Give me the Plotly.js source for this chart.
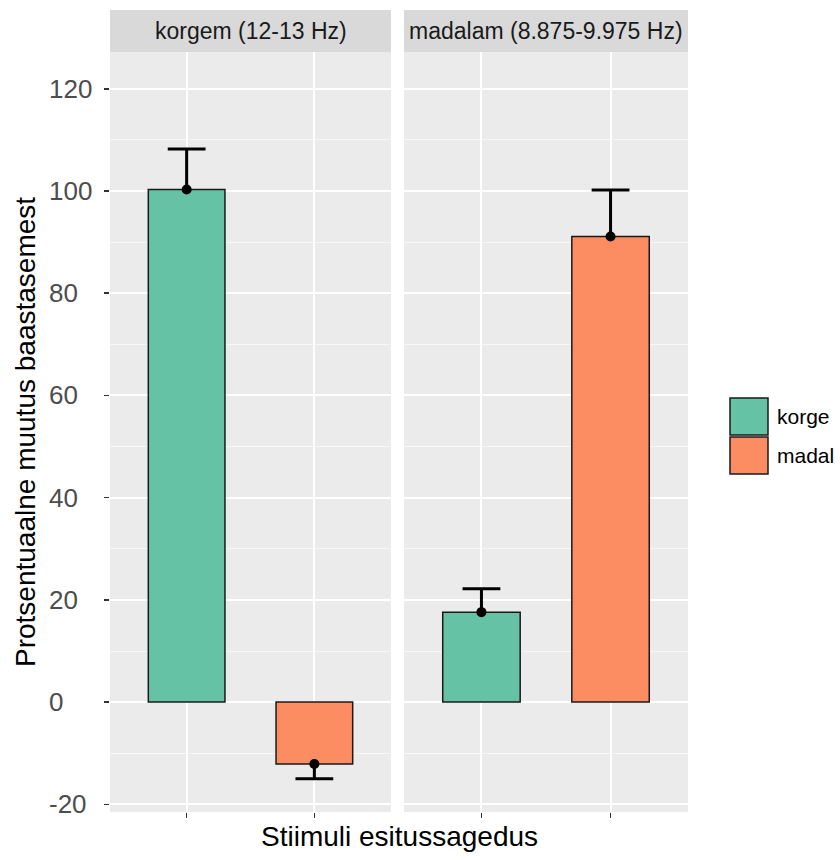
<!DOCTYPE html>
<html>
<head>
<meta charset="utf-8">
<script src="https://cdn.plot.ly/plotly-3.0.1.min.js"></script>
<style>html,body{margin:0;padding:0;background:#fff;}#chart{width:840px;height:860px;}</style>
</head>
<body>
<div id="chart"></div>
<script>
// ---- data ----
var panels = ['korgem (12-13 Hz)', 'madalam (8.875-9.975 Hz)'];
var stimuli = ['korge', 'madal'];
var meansKorgem = [100.3, -12.1];
var seKorgem = [7.9, 2.9];
var meansMadalam = [17.6, 91.1];
var seMadalam = [4.6, 9.1];
var seriesColors = ['#66c2a5', '#fc8d62'];
var yTickVals = [-20, 0, 20, 40, 60, 80, 100, 120];
var yTitle = 'Protsentuaalne muutus baastasemest';
var xTitle = 'Stiimuli esitussagedus';

// ---- geometry ----
var W = 840, H = 860;
var mL = 110, mR = 152, mT = 52, mB = 48;
var plotW = W - mL - mR, plotH = H - mT - mB;
function px(x) { return (x - mL) / plotW; }
function py(y) { return (H - mB - y) / plotH; }
var FONT = 'Liberation Sans, Arial, Helvetica, sans-serif';

var panelMeans = [meansKorgem, meansMadalam];
var panelSe = [seKorgem, seMadalam];
var axisIds = ['x', 'x2'];

var traces = [];
panelMeans.forEach(function (means, p) {
  var se = panelSe[p];
  traces.push({
    type: 'bar', x: stimuli, y: means, xaxis: axisIds[p], yaxis: 'y',
    width: 0.6, showlegend: false, hoverinfo: 'x+y',
    marker: { color: seriesColors, line: { color: '#1a1a1a', width: 1.5 } }
  });
  // error bar stem (outer half; inner half is hidden by the bar)
  traces.push({
    type: 'scatter', mode: 'markers', x: stimuli, y: means, xaxis: axisIds[p], yaxis: 'y',
    showlegend: false, hoverinfo: 'skip',
    marker: { color: '#000', size: 10 },
    error_y: {
      type: 'data', symmetric: false,
      array: means.map(function (m, i) { return m >= 0 ? se[i] : 0; }),
      arrayminus: means.map(function (m, i) { return m < 0 ? se[i] : 0; }),
      color: '#000', thickness: 3, width: 0
    }
  });
  // error bar caps
  traces.push({
    type: 'scatter', mode: 'markers', x: stimuli,
    y: means.map(function (m, i) { return m >= 0 ? m + se[i] : m - se[i]; }),
    xaxis: axisIds[p], yaxis: 'y', showlegend: false, hoverinfo: 'skip',
    marker: { symbol: 'line-ew-open', size: 27, color: '#000', line: { color: '#000', width: 3 } }
  });
});

var xAxisBase = {
  type: 'category', range: [-0.6, 1.6], anchor: 'y',
  showticklabels: false, ticks: 'outside', ticklen: 5, tickwidth: 1.5, tickcolor: '#333333',
  showgrid: true, gridcolor: '#ffffff', gridwidth: 2, zeroline: false, showline: false,
  fixedrange: true
};
var xaxis = Object.assign({}, xAxisBase, { domain: [0, px(391)] });
var xaxis2 = Object.assign({}, xAxisBase, { domain: [px(404), 1] });

var shapes = [], annotations = [];
var stripTop = 1 + 42 / plotH;
panels.forEach(function (name, p) {
  var xr = axisIds[p] + ' domain';
  shapes.push({ type: 'rect', xref: xr, yref: 'paper', x0: 0, x1: 1, y0: 1, y1: stripTop,
    fillcolor: '#d9d9d9', line: { width: 0 }, layer: 'above' });
  annotations.push({ xref: xr, yref: 'paper', x: 0.5, y: (1 + stripTop) / 2,
    xanchor: 'center', yanchor: 'middle', showarrow: false, text: name,
    font: { family: FONT, size: 23, color: '#1a1a1a' } });
});

// y tick labels (left-aligned as in the reference)
yTickVals.forEach(function (v) {
  annotations.push({ xref: 'paper', yref: 'y', x: px(47), y: v, xanchor: 'left', yanchor: 'middle',
    showarrow: false, text: String(v), font: { family: FONT, size: 26, color: '#4d4d4d' } });
});

// axis titles
annotations.push({ xref: 'paper', yref: 'paper', x: 0.5, y: py(836), xanchor: 'center', yanchor: 'middle',
  showarrow: false, text: xTitle, font: { family: FONT, size: 28, color: '#000' } });
annotations.push({ xref: 'paper', yref: 'paper', x: px(25), y: py(432), xanchor: 'center', yanchor: 'middle',
  textangle: -90, showarrow: false, text: yTitle, font: { family: FONT, size: 28, color: '#000' } });

// legend
var keyX0 = 730, keyX1 = 768, keyTop = 398, keyH = 39;
stimuli.forEach(function (s, i) {
  var t = keyTop + i * keyH, b = t + keyH - 2;
  shapes.push({ type: 'rect', xref: 'paper', yref: 'paper', x0: px(keyX0), x1: px(keyX1), y0: py(b), y1: py(t),
    fillcolor: seriesColors[i], line: { color: '#1a1a1a', width: 1.5 }, layer: 'above' });
  annotations.push({ xref: 'paper', yref: 'paper', x: px(775), y: py((t + b) / 2), xanchor: 'left', yanchor: 'middle',
    showarrow: false, text: s, font: { family: FONT, size: 21, color: '#000' } });
});

var layout = {
  width: W, height: H,
  margin: { l: mL, r: mR, t: mT, b: mB, pad: 0 },
  paper_bgcolor: '#ffffff', plot_bgcolor: '#ebebeb',
  showlegend: false,
  font: { family: FONT },
  xaxis: xaxis, xaxis2: xaxis2,
  yaxis: {
    range: [-21.5, 127.2], tickvals: yTickVals, showticklabels: false,
    ticks: 'outside', ticklen: 5, tickwidth: 1.5, tickcolor: '#333333',
    showgrid: true, gridcolor: '#ffffff', gridwidth: 2, zeroline: false, showline: false,
    minor: { dtick: 10, tick0: 0, showgrid: true, gridcolor: '#f7f7f7', gridwidth: 1, ticks: '' },
    fixedrange: true
  },
  shapes: shapes, annotations: annotations
};

Plotly.newPlot('chart', traces, layout, { displayModeBar: false, staticPlot: true });
</script>
</body>
</html>
